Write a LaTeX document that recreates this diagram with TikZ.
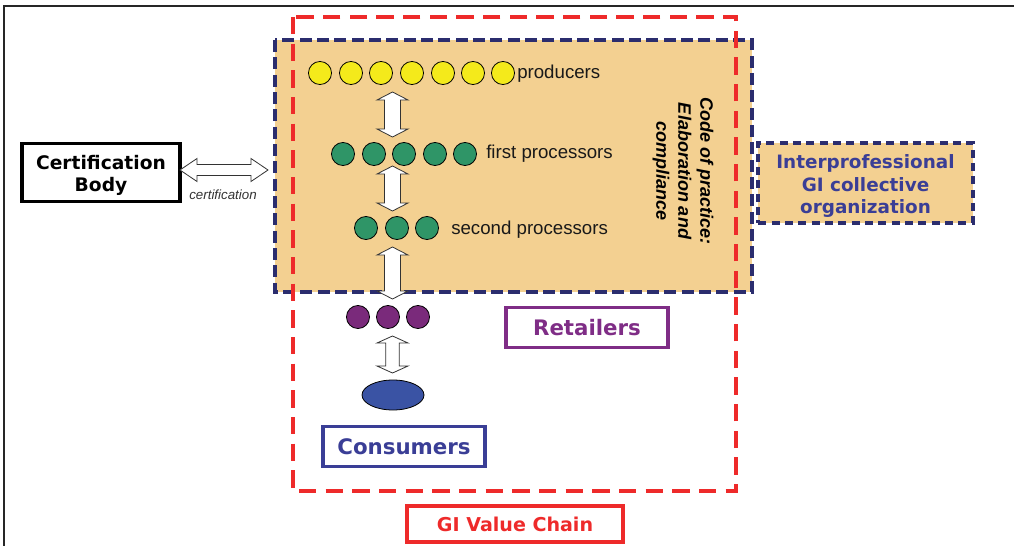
\documentclass[tikz,border=0pt]{standalone}
\usepackage{fontspec}
\setmainfont{Liberation Sans}
\newfontfamily\verd{DejaVu Sans}
\usetikzlibrary{shapes.geometric}
\definecolor{orangefill}{HTML}{F3D091}
\definecolor{navyline}{HTML}{2B2D6E}
\definecolor{redline}{HTML}{EE2A2A}
\definecolor{yellowc}{HTML}{F4EA1B}
\definecolor{greenc}{HTML}{2F9567}
\definecolor{purplec}{HTML}{7A2A7B}
\definecolor{purpleb}{HTML}{7F2D86}
\definecolor{navyt}{HTML}{3A3E96}
\definecolor{bluee}{HTML}{3A53A4}
\newcommand{\vdarrow}[6]{%
  \draw[blockarrow] (#1,#2) -- (#1+#5,#2+#6) -- (#1+#4,#2+#6) -- (#1+#4,#3-#6) -- (#1+#5,#3-#6) -- (#1,#3) -- (#1-#5,#3-#6) -- (#1-#4,#3-#6) -- (#1-#4,#2+#6) -- (#1-#5,#2+#6) -- cycle;}
\newcommand{\hdarrow}[6]{%
  \draw[blockarrow] (#2,#1) -- (#2+#6,#1-#5) -- (#2+#6,#1-#4) -- (#3-#6,#1-#4) -- (#3-#6,#1-#5) -- (#3,#1) -- (#3-#6,#1+#5) -- (#3-#6,#1+#4) -- (#2+#6,#1+#4) -- (#2+#6,#1+#5) -- cycle;}
\begin{document}
\begin{tikzpicture}[x=0.75pt,y=-0.75pt,
  frame/.style={draw=black!85,line width=1.1pt},
  orgbox/.style={fill=orangefill,draw=navyline,line width=3pt,dash pattern=on 9pt off 4pt},
  redbox/.style={draw=redline,line width=3pt,dash pattern=on 13pt off 7pt},
  circ/.style={circle,draw=black,line width=0.6pt,minimum size=17.3pt,inner sep=0pt},
  blockarrow/.style={draw=black!80,fill=white,line width=0.6pt,line join=miter},
  lbl/.style={font=\fontsize{14}{16}\selectfont,text=black!90,anchor=west,inner sep=0pt},
  tbox/.style={draw,line width=2.4pt,inner sep=0pt,font=\verd\bfseries},
]
\useasboundingbox (0,0) rectangle (1014,546);
\fill[white] (0,0) rectangle (1014,546);
\draw[frame] (4,546) -- (4,6) -- (1014,6);

% orange interprofessional region
\draw[orgbox] (275,40) rectangle (752,292);

% GI value chain red dashed rectangle
\draw[redbox] (293,17) rectangle (736,491);

% producers
\foreach \i/\x in {1/320,2/351,3/381,4/412,5/443,6/473,7/503}
  \node[circ,fill=yellowc] (y\i) at (\x,73) {};
\node[lbl] (prodl) at (517,73.5) {producers};

% first processors
\foreach \i/\x in {1/343,2/374,3/404,4/435,5/465}
  \node[circ,fill=greenc] (f\i) at (\x,154) {};
\node[lbl] (firstl) at (486,153.5) {first processors};

% second processors
\foreach \i/\x in {1/366,2/397,3/427}
  \node[circ,fill=greenc] (s\i) at (\x,228) {};
\node[lbl] (secondl) at (451,229.5) {second processors};

% retailers circles
\foreach \i/\x in {1/358,2/388,3/418}
  \node[circ,fill=purplec] (r\i) at (\x,317) {};

% consumer ellipse
\node[ellipse,draw=black,line width=0.6pt,fill=bluee,minimum width=46.5pt,minimum height=22.5pt,inner sep=0pt] (cons) at (393,395) {};

% vertical block arrows
\vdarrow{392.5}{92}{137}{8}{15.5}{8}
\vdarrow{392.5}{166}{211}{8}{15.5}{8}
\vdarrow{392.5}{247}{299}{8}{15.5}{8}
\vdarrow{392.5}{336}{373}{6.7}{15.5}{7}

% code of practice
\node[rotate=-90,align=center,font=\fontsize{13.5}{16.5}\selectfont\bfseries\itshape,inner sep=0pt] (code) at (683,171)
  {Code of practice:\\Elaboration and\\compliance};

% certification body
\node[tbox,draw=black,minimum width=118.5pt,minimum height=44pt] (cert) at (101,172.5) {};
\node[align=center,inner sep=0pt,font=\verd\bfseries\fontsize{14}{16.5}\selectfont] (certt) at ([yshift=-2.5pt]cert.center) {Certification\\Body};
\hdarrow{170}{180}{268}{5.5}{11.5}{17}
\node[font=\fontsize{10}{12}\selectfont\itshape,text=black!80,inner sep=0pt] (certl) at (223,194.5) {certification};

% interprofessional box
\node[fill=orangefill,draw=navyline,line width=3pt,dash pattern=on 6pt off 4pt,minimum width=161pt,minimum height=60pt,inner sep=0pt] (inter) at (865.5,183) {};
\node[align=center,inner sep=0pt,text=navyt,font=\verd\bfseries\fontsize{13.8}{16.9}\selectfont] (intert) at ([yshift=-2.3pt]inter.center) {Interprofessional\\GI collective\\organization};

% labels
\node[tbox,draw=purpleb,text=purpleb,minimum width=121.5pt,minimum height=30.5pt,font=\verd\bfseries\fontsize{16}{18}\selectfont] (ret) at (587,327.5) {Retailers};
\node[tbox,draw=navyt,text=navyt,minimum width=121.5pt,minimum height=30.5pt,font=\verd\bfseries\fontsize{16}{18}\selectfont] (consl) at (404,446.5) {Consumers};
\node[tbox,draw=redline,text=redline,minimum width=162pt,minimum height=27pt,font=\verd\bfseries\fontsize{14.3}{16}\selectfont] (gi) at (515,524) {GI Value Chain};
\end{tikzpicture}
\end{document}
